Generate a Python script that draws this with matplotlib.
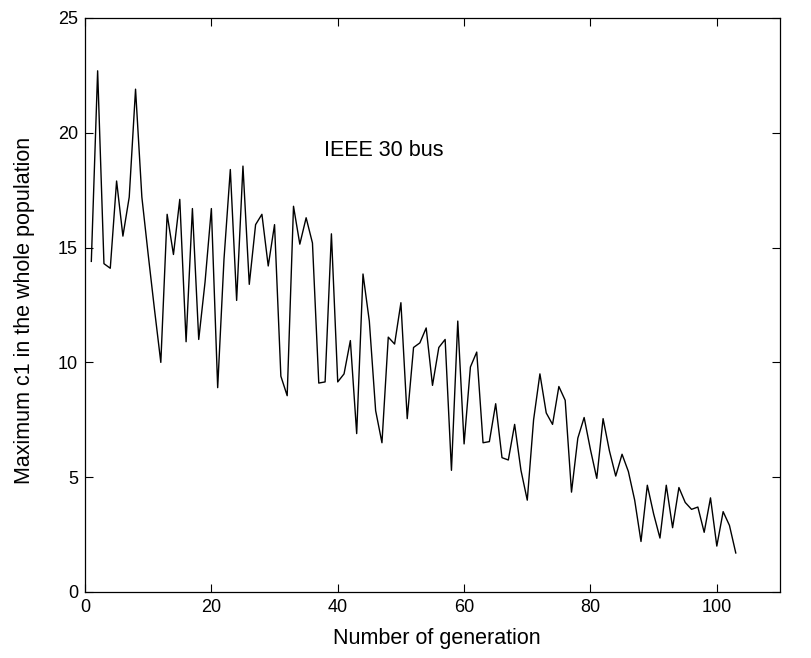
import numpy as np
import matplotlib.pyplot as plt

# =========================
# DATA
# =========================
generation = np.arange(1, 104)
max_c1 = [
    14.4, 22.7, 14.3, 14.1, 17.9, 15.5, 17.2, 21.9, 17.2, 14.7,
    12.3, 10.0, 16.45, 14.7, 17.1, 10.9, 16.7, 11.0, 13.5, 16.7,
    8.9, 14.5, 18.4, 12.7, 18.55, 13.4, 16.0, 16.45, 14.2, 16.0,
    9.4, 8.55, 16.8, 15.15, 16.3, 15.2, 9.1, 9.15, 15.6, 9.15,
    9.5, 10.95, 6.9, 13.85, 11.8, 7.9, 6.5, 11.1, 10.8, 12.6,
    7.55, 10.65, 10.85, 11.5, 9.0, 10.65, 11.0, 5.3, 11.8, 6.45,
    9.8, 10.45, 6.5, 6.55, 8.2, 5.85, 5.75, 7.3, 5.3, 4.0,
    7.5, 9.5, 7.8, 7.3, 8.95, 8.35, 4.35, 6.7, 7.6, 6.2,
    4.95, 7.55, 6.15, 5.05, 6.0, 5.25, 4.0, 2.2, 4.65, 3.4,
    2.35, 4.65, 2.8, 4.55, 3.9, 3.6, 3.7, 2.6, 4.1, 2.0,
    3.5, 2.9, 1.7,
]

x_ticks = [0, 20, 40, 60, 80, 100]
y_ticks = [0, 5, 10, 15, 20, 25]

plt.rcParams['font.family'] = ['Liberation Sans', 'DejaVu Sans']

# =========================
# FIGURE
# =========================
fig = plt.figure(figsize=(8.11, 6.58), dpi=100)
ax = fig.add_axes([85 / 811, 1 - 592 / 658, (780 - 85) / 811, (592 - 18) / 658])

ax.plot(generation, max_c1, color="black", linewidth=1.0)

ax.set_xlim(0, 110)
ax.set_ylim(0, 25)
ax.set_xticks(x_ticks)
ax.set_yticks(y_ticks)
ax.tick_params(direction="in", top=True, right=True, length=6, width=0.8,
               labelsize=13, pad=5)
for s in ax.spines.values():
    s.set_linewidth(0.9)

ax.set_xlabel("Number of generation", fontsize=15.5)
ax.set_ylabel("Maximum c1 in the whole population", fontsize=15.5)
ax.xaxis.set_label_coords(0.506, -0.063)
ax.yaxis.set_label_coords(-0.072, 0.49)
ax.text(37.8, 19.25, "IEEE 30 bus", fontsize=15.5, va="center")

fig.savefig("out.png", dpi=100)
